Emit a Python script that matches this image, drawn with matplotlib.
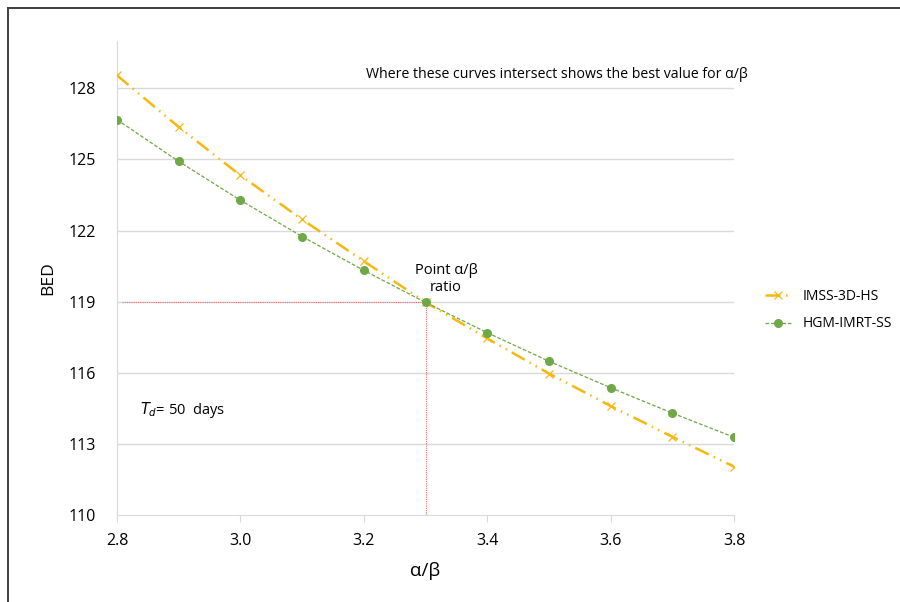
import matplotlib
matplotlib.use("Agg")
from matplotlib import pyplot as plt
from matplotlib.lines import Line2D

plt.rcParams['font.family'] = ['Open Sans', 'DejaVu Sans']

# data
alpha_beta = [2.8, 2.9, 3.0, 3.1, 3.2, 3.3, 3.4, 3.5, 3.6, 3.7, 3.8]
imss_3d_hs = [128.55, 126.37, 124.33, 122.47, 120.71, 118.98, 117.45, 115.97, 114.6, 113.3, 112.04]
hgm_imrt_ss = [126.68, 124.92, 123.28, 121.75, 120.32, 118.97, 117.69, 116.49, 115.37, 114.3, 113.28]
y_ticks = [110, 113, 116, 119, 122, 125, 128]
x_ticks = [2.8, 3.0, 3.2, 3.4, 3.6, 3.8]
best_ratio = 3.3
best_bed = 119

orange = "#F6B810"
green = "#6FA846"
grid_col = "#D9D9D9"

fig = plt.figure(figsize=(9, 6.02), dpi=100)
ax = fig.add_axes([0.13, 0.1445, 0.6856, 0.7874])

for yv in y_ticks[1:]:
    ax.axhline(yv, color=grid_col, lw=1, zorder=0)

ax.plot([alpha_beta[0] + 0.008, best_ratio], [best_bed, best_bed], color="#F26B6B",
        lw=0.8, ls=(0, (1, 1)), zorder=1)
ax.plot([best_ratio, best_ratio], [110, best_bed], color="#F26B6B",
        lw=0.8, ls=(0, (1, 1)), zorder=1)

ax.plot(alpha_beta, imss_3d_hs, color=orange, lw=1.8, ls=(0, (6, 2.2, 0.6, 2.2, 0.6, 2.2)),
        marker="x", ms=6, mew=0.9, label="IMSS-3D-HS", zorder=3)
ax.plot(alpha_beta, hgm_imrt_ss, color=green, lw=0.9, ls=(0, (3, 1.5)),
        marker="o", ms=5.5, label="HGM-IMRT-SS", zorder=4)

ax.set_xlim(2.8, 3.8)
ax.set_ylim(110, 130)
ax.set_xticks(x_ticks)
ax.set_xticklabels([f"{v:.1f}" for v in x_ticks])
ax.set_yticks(y_ticks)
for s in ["top", "right"]:
    ax.spines[s].set_visible(False)
for s in ["left", "bottom"]:
    ax.spines[s].set_color(grid_col)
ax.tick_params(axis="y", length=0, labelsize=11.5, pad=15)
ax.tick_params(axis="x", length=5, color=grid_col, labelsize=11.5, pad=8)
ax.set_xlabel("α/β", fontsize=13.5, labelpad=9)
ax.set_ylabel("BED", fontsize=12.5, labelpad=9)

ax.text(3.8 + 0.022, 128.6, "Where these curves intersect shows the best value for α/β",
        fontsize=10.2, ha="right", va="center")
ax.text(3.333, 119.95, "Point α/β\nratio", fontsize=10.5, ha="center", va="center",
        linespacing=1.2)
ax.text(2.838, 114.43, r"$T_d$= 50  days", fontsize=10.5, ha="left", va="center")

ax.legend(loc="center left", bbox_to_anchor=(1.03, 0.432), frameon=False, fontsize=10,
          handlelength=1.9, labelspacing=0.9)

# outer frame (left and top edges)
fig.add_artist(Line2D([0.009, 0.009], [0.0, 0.987], transform=fig.transFigure,
                      color="#404040", lw=1.4))
fig.add_artist(Line2D([0.009, 1.0], [0.987, 0.987], transform=fig.transFigure,
                      color="#404040", lw=1.4))

fig.savefig("out.png", dpi=100, facecolor="white")
